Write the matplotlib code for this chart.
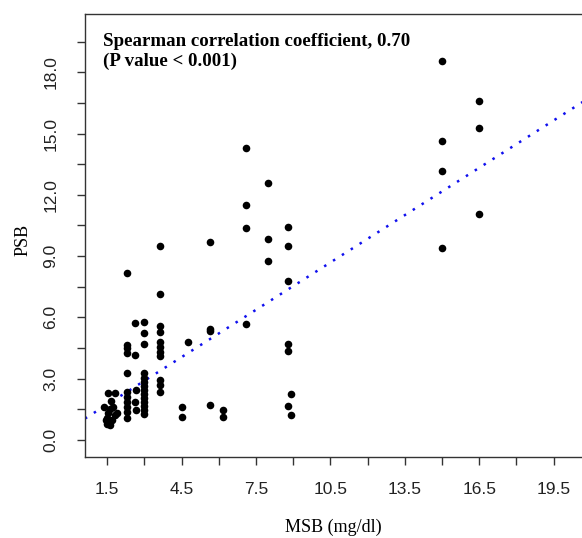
import numpy as np
import matplotlib
matplotlib.use("Agg")
import matplotlib.pyplot as plt

# MSB (mg/dl) and PSB values
msb = [15.0, 15.0, 15.0, 15.0,
       16.5, 16.5, 16.5,
       8.8, 8.8, 8.8, 8.8, 8.8, 8.9, 8.8, 8.9,
       8.0, 8.0, 8.0,
       7.1, 7.1, 7.1, 7.1,
       6.15, 6.15,
       5.65, 5.65, 5.65, 5.65,
       4.74, 4.5, 4.5,
       3.62, 3.62, 3.62, 3.62, 3.62, 3.62, 3.62, 3.62, 3.62, 3.62, 3.62,
       3.0, 3.0, 3.0, 3.0, 3.0, 3.0, 3.0, 3.0, 3.0, 3.0, 3.0, 3.0, 3.0, 3.0,
       2.6, 2.6, 2.65, 2.6, 2.65,
       2.28, 2.3, 2.3, 2.3, 2.3, 2.3, 2.3, 2.3, 2.3, 2.3, 2.3,
       1.54, 1.81, 1.35, 1.65, 1.54, 1.81, 1.9, 1.45, 1.6, 1.5, 1.7, 1.6, 1.75, 1.5]
psb = [18.54, 14.63, 13.18, 9.41,
       16.60, 15.26, 11.07,
       10.42, 9.51, 7.79, 4.68, 4.35, 2.25, 1.66, 1.22,
       12.59, 9.83, 8.76,
       14.30, 11.50, 10.37, 5.69,
       1.47, 1.13,
       9.67, 5.42, 5.32, 1.71,
       4.79, 1.60, 1.13,
       9.51, 7.14, 5.59, 5.30, 4.78, 4.56, 4.32, 4.11, 2.94, 2.69, 2.36,
       5.79, 5.22, 4.70, 3.26, 3.05, 2.85, 2.65, 2.45, 2.25, 2.05, 1.85, 1.65, 1.45, 1.25,
       5.71, 4.16, 2.45, 1.87, 1.47,
       8.15, 4.65, 4.48, 4.24, 3.26, 2.36, 2.10, 1.85, 1.60, 1.35, 1.10,
       2.28, 2.31, 1.63, 1.92, 1.30, 1.22, 1.30, 0.98, 0.73, 0.80, 1.00, 1.50, 1.60, 1.10]

# fitted line (dotted blue)
fit_intercept = 0.585
fit_slope = 0.772

x_ticks = np.arange(1.5, 19.6, 1.5)
y_ticks = np.arange(0.0, 19.6, 1.5)

fig = plt.figure(figsize=(5.82, 5.38), dpi=100)
ax = fig.add_axes([0.146, 0.1506, 0.890, 0.823])

ax.scatter(msb, psb, s=30, color='black', zorder=3, linewidths=0)
ax.axline((0, fit_intercept), slope=fit_slope, color='#1010ee', lw=1.8,
          linestyle=(0, (1, 3.2)), dash_capstyle='butt', zorder=2)

ax.set_xlim(0.601, 21.49)
ax.set_ylim(-0.83, 20.84)

ax.set_xticks(x_ticks)
ax.set_xticklabels(['%.1f' % v if i % 2 == 0 else '' for i, v in enumerate(x_ticks)])
ax.set_yticks(y_ticks)
ax.set_yticklabels(['%.1f' % v if i % 2 == 0 else '' for i, v in enumerate(y_ticks)])

ax.tick_params(direction='out', length=6, width=1, color='#333333',
               labelsize=12.5, labelcolor='#222222')
ax.tick_params(axis='x', pad=12)
ax.tick_params(axis='y', pad=13, labelrotation=90)
for lab in ax.get_yticklabels():
    lab.set_va('center')
for lab in ax.get_xticklabels() + ax.get_yticklabels():
    lab.set_family('Liberation Sans')

for side in ['left', 'bottom', 'top']:
    ax.spines[side].set_color('#333333')
    ax.spines[side].set_linewidth(1.0)
ax.spines['right'].set_visible(False)

ax.set_xlabel('MSB (mg/dl)', family='Liberation Serif', fontsize=13, va='center')
ax.xaxis.set_label_coords(0.479, -0.158)
ax.set_ylabel('PSB', family='Liberation Serif', fontsize=13, va='center')
ax.yaxis.set_label_coords(-0.12, 0.49)

ax.text(0.035, 0.916, 'Spearman correlation coefficient, 0.70\n(P value < 0.001)',
        transform=ax.transAxes, family='Liberation Serif', weight='bold',
        fontsize=13.6, va='center', ha='left', linespacing=1.15)

fig.savefig('out.png', dpi=100)
